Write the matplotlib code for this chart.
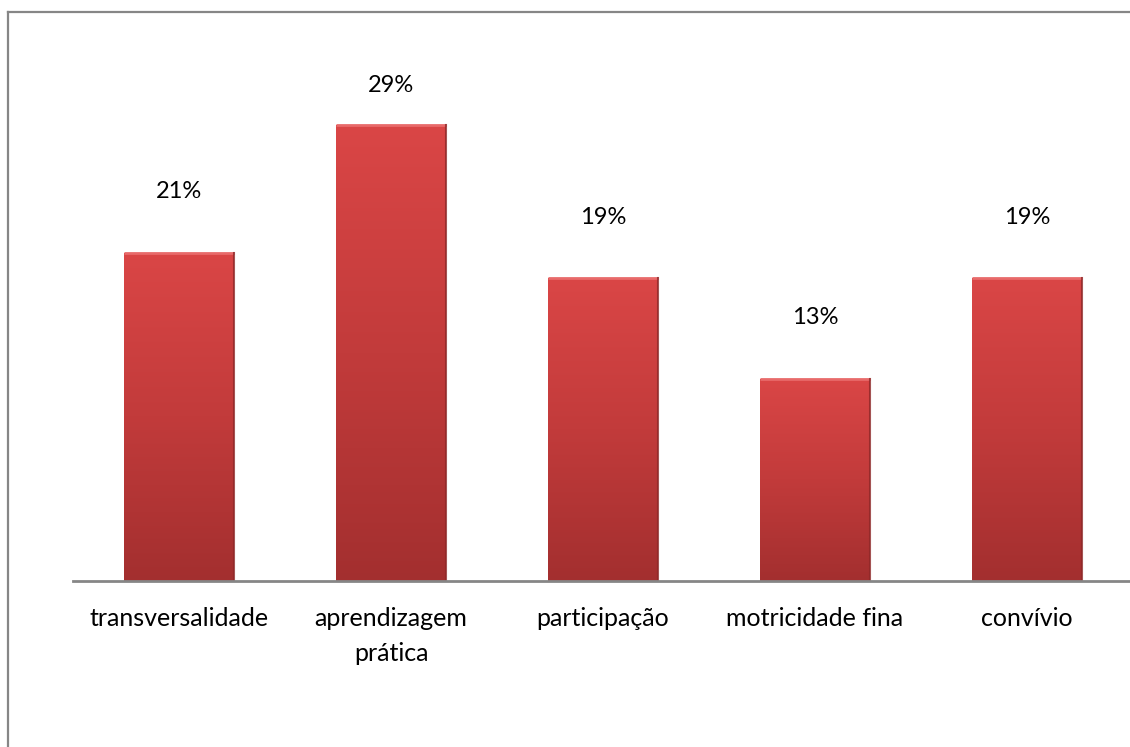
import matplotlib
matplotlib.use("Agg")
import matplotlib.pyplot as plt
import numpy as np
from matplotlib.lines import Line2D
from matplotlib.colors import LinearSegmentedColormap

categories = ["transversalidade", "aprendizagem\nprática", "participação", "motricidade fina", "convívio"]
values = [20.6, 28.6, 19.0, 12.7, 19.0]
labels = ["21%", "29%", "19%", "13%", "19%"]

plt.rcParams['font.family'] = ['Lato', 'DejaVu Sans']

W, H = 1130, 747
fig = plt.figure(figsize=(W / 100, H / 100), dpi=100)

left_px, right_px, base_px, top_px = 73, 1133, 581, 31
ax = fig.add_axes([left_px / W, 1 - base_px / H, (right_px - left_px) / W, (base_px - top_px) / H])
px_per_unit = 456 / 28.6
ymax = (base_px - top_px) / px_per_unit
x = np.arange(len(categories))
bars = ax.bar(x, values, width=0.515, color="#C83C3C", zorder=2)
ax.set_xlim(-0.5, len(categories) - 0.5)
ax.set_ylim(0, ymax)

cmap = LinearSegmentedColormap.from_list("redgrad", ["#A32F2F", "#C23B3B", "#DA4646"])
grad = np.linspace(0, 1, 256).reshape(-1, 1)
for b in bars:
    x0, w, h = b.get_x(), b.get_width(), b.get_height()
    im = ax.imshow(grad, extent=(x0, x0 + w, 0, h), origin="lower", cmap=cmap,
                   aspect="auto", zorder=3, interpolation="bicubic")
    im.set_clip_path(b)
    ax.plot([x0, x0 + w], [h, h], color="#E86A6A", lw=2, zorder=4, solid_capstyle="butt")
    ax.plot([x0 + w, x0 + w], [0, h], color="#8E2828", lw=1.5, zorder=4, alpha=0.8)

label_top_limit_px = 85  # labels cannot go above this (plot-area limit)
for xi, v, lab in zip(x, values, labels):
    bar_top_px = base_px - v * px_per_unit
    off = min(61, bar_top_px - label_top_limit_px)
    ax.annotate(lab, (xi, v), xytext=(0, off), textcoords="offset pixels",
                ha="center", va="center", fontsize=17)

for s in ["top", "right", "left"]:
    ax.spines[s].set_visible(False)
ax.spines["bottom"].set_color("#868686")
ax.spines["bottom"].set_linewidth(2)
ax.spines["bottom"].set_zorder(5)
ax.set_yticks([])
ax.set_xticks(x)
ax.set_xticklabels(categories, fontsize=18, linespacing=1.6)
ax.tick_params(axis="x", length=0, pad=19)
ax.set_ylim(0, ymax)

fig.add_artist(Line2D([7.5 / W, 7.5 / W], [0, 1 - 11.5 / H], color="#868686", lw=1.6, transform=fig.transFigure))
fig.add_artist(Line2D([7.5 / W, 1], [1 - 11.5 / H, 1 - 11.5 / H], color="#868686", lw=1.6, transform=fig.transFigure))

fig.savefig("out.png", dpi=100)
